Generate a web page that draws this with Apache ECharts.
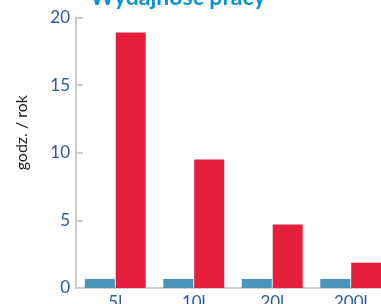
<!DOCTYPE html>
<html>
<head>
<meta charset="utf-8">
<script src="https://cdn.jsdelivr.net/npm/echarts@6/dist/echarts.min.js"></script>
<style>
  html, body { margin: 0; padding: 0; background: #fff; }
  #chart { width: 381px; height: 304px; }
</style>
</head>
<body>
<div id="chart"></div>
<script>
// dane z wykresu
const categories = ['5l', '10l', '20l', '200l'];
const blueValues = [0.67, 0.67, 0.67, 0.67];
const redValues = [18.9, 9.5, 4.7, 1.87];
const yTicks = [0, 5, 10, 15, 20];

const labelColor = '#2c5b9c';
const axisColor = '#cccccc';
const font = 'Lato';

const myChart = echarts.init(document.getElementById('chart'));

myChart.setOption({
    animation: false,
    title: {
        text: 'Wydajność pracy',
        left: 173,
        textAlign: 'center',
        top: -19,
        textStyle: {
            color: '#0a93d4',
            fontFamily: font,
            fontWeight: 'bold',
            fontSize: 23
        }
    },
    graphic: [{
        type: 'text',
        left: 14,
        top: 95,
        rotation: Math.PI / 2,
        style: {
            text: 'godz. / rok',
            fill: '#222',
            font: '16px ' + font
        }
    }],
    grid: {
        left: 76,
        right: -9,
        top: 17.5,
        bottom: 16,
        containLabel: false,
        outerBoundsMode: 'none'
    },
    xAxis: {
        type: 'category',
        data: categories,
        axisLine: { lineStyle: { color: axisColor, width: 2 } },
        axisTick: { inside: true, length: 7, lineStyle: { color: axisColor, width: 2 } },
        axisLabel: {
            color: labelColor,
            fontFamily: font,
            fontSize: 17,
            margin: 6
        }
    },
    yAxis: {
        type: 'value',
        min: yTicks[0],
        max: yTicks[yTicks.length - 1],
        interval: 5,
        splitLine: { show: false },
        axisLine: { show: true, lineStyle: { color: axisColor, width: 2 } },
        axisTick: { show: true, inside: true, length: 7, lineStyle: { color: axisColor, width: 2 } },
        axisLabel: {
            color: labelColor,
            fontFamily: font,
            fontSize: 17,
            margin: 6
        }
    },
    series: [{
        type: 'bar',
        data: blueValues,
        barWidth: 30,
        barGap: '3%',
        itemStyle: { color: '#4a94b9' }
    }, {
        type: 'bar',
        data: redValues,
        barWidth: 30,
        itemStyle: { color: '#e51e3c' }
    }]
});
</script>
</body>
</html>
